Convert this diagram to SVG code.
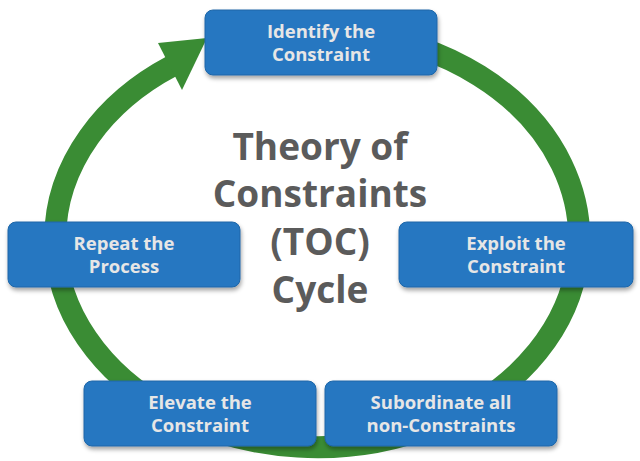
<svg xmlns="http://www.w3.org/2000/svg" width="640" height="461" viewBox="0 0 640 461">
<style>
.box{fill:#2577c1;stroke:#1f66a8;stroke-width:1}
.lbl{font-family:"Open Sans","Liberation Sans",sans-serif;font-weight:bold;font-size:18.5px;fill:#e6e6e6;text-anchor:middle}
.title{font-family:"Open Sans","Liberation Sans",sans-serif;font-weight:bold;font-size:37px;fill:#5b5b5b;text-anchor:middle}
</style>
<defs><filter id="sh" x="-10%" y="-10%" width="120%" height="130%"><feDropShadow dx="1" dy="3" stdDeviation="2" flood-color="#000" flood-opacity="0.35"/></filter></defs>
<rect width="640" height="461" fill="#fff"/>
<g id="connectors">
<path d="M230,43 A262,208 0 1 1 172,66" fill="none" stroke="#3a8c34" stroke-width="22"/>
<polygon points="207,38 182,90 158,43" fill="#3a8c34"/>
</g>
<g id="title"><text class="title" x="320" y="160">Theory of</text><text class="title" x="320" y="207">Constraints</text><text class="title" x="320" y="255">(TOC)</text><text class="title" x="320" y="303">Cycle</text></g>
<g id="identify"><rect class="box" filter="url(#sh)" x="205" y="10" width="232" height="65" rx="8"/><text class="lbl" x="321" y="38">Identify the</text><text class="lbl" x="321" y="61">Constraint</text></g>
<g id="exploit"><rect class="box" filter="url(#sh)" x="399" y="222" width="234" height="65" rx="8"/><text class="lbl" x="516" y="250">Exploit the</text><text class="lbl" x="516" y="273">Constraint</text></g>
<g id="subordinate"><rect class="box" filter="url(#sh)" x="325" y="381" width="232" height="65" rx="8"/><text class="lbl" x="441" y="409">Subordinate all</text><text class="lbl" x="441" y="432">non-Constraints</text></g>
<g id="elevate"><rect class="box" filter="url(#sh)" x="84" y="381" width="232" height="65" rx="8"/><text class="lbl" x="200" y="409">Elevate the</text><text class="lbl" x="200" y="432">Constraint</text></g>
<g id="repeat"><rect class="box" filter="url(#sh)" x="8" y="222" width="232" height="65" rx="8"/><text class="lbl" x="124" y="250">Repeat the</text><text class="lbl" x="124" y="273">Process</text></g>
</svg>
